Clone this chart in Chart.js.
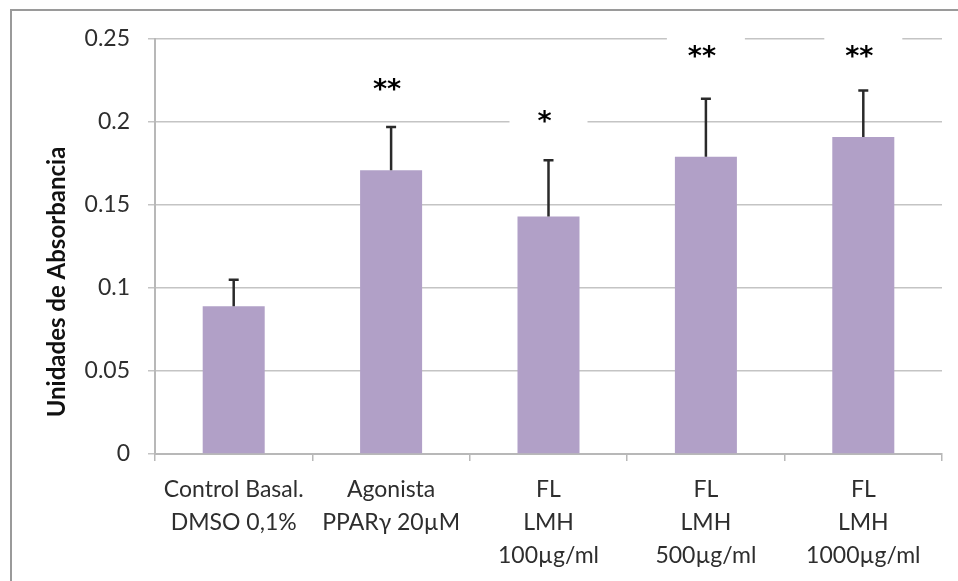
<!DOCTYPE html>
<html>
<head>
<meta charset="utf-8">
<script src="https://cdn.jsdelivr.net/npm/chart.js@4"></script>
<style>
html, body { margin: 0; padding: 0; background: #fff; }
#wrap { width: 958px; height: 581px; }
</style>
</head>
<body>
<div id="wrap"><canvas id="chart_absorbancia"></canvas></div>
<script>
// data
var categories = [
    ['Control Basal.', 'DMSO 0,1%'],
    ['Agonista', 'PPARγ 20µM'],
    ['FL', 'LMH', '100µg/ml'],
    ['FL', 'LMH', '500µg/ml'],
    ['FL', 'LMH', '1000µg/ml']
];
var meanValues = [0.089, 0.171, 0.143, 0.179, 0.191];
var errorValues = [0.016, 0.026, 0.034, 0.035, 0.028];
var starMarks = ['', '**', '*', '**', '**'];
var starLevels = [null, 0.222, 0.203, 0.242, 0.242];
var yTickLabels = ['0', '0.05', '0.1', '0.15', '0.2', '0.25'];
var yTitle = 'Unidades de Absorbancia';

var labelFont = 'Lato';

var chart_absorbancia = new Chart(document.getElementById('chart_absorbancia'), {
    type: 'bar',
    data: {
        labels: categories,
        datasets: [
            {
                label: 'Absorbancia',
                data: meanValues,
                backgroundColor: '#b1a0c7',
                borderWidth: 0,
                categoryPercentage: 1,
                barPercentage: 0.394
            }
        ]
    },
    options: {
        animation: false,
        responsive: true,
        maintainAspectRatio: false,
        layout: {
            padding: { top: 39, right: 16, bottom: 0, left: 0 }
        },
        plugins: {
            legend: { display: false },
            tooltip: { enabled: false }
        },
        scales: {
            x: {
                offset: true,
                grid: {
                    display: true,
                    drawOnChartArea: false,
                    offset: true,
                    tickLength: 7,
                    color: '#b8b8b8',
                    lineWidth: 1.5
                },
                border: { color: '#b8b8b8', width: 2 },
                ticks: {
                    maxRotation: 0,
                    autoSkip: false,
                    padding: 12,
                    color: '#2e2e2e',
                    font: { family: labelFont, size: 23, lineHeight: 33 / 23 }
                },
                afterFit: function(scale) { scale.height = 581 - 454; }
            },
            y: {
                min: 0,
                max: 0.25,
                ticks: {
                    stepSize: 0.05,
                    padding: 18,
                    color: '#2e2e2e',
                    font: { family: labelFont, size: 23 },
                    callback: function(value, index) {
                        return yTickLabels[index];
                    }
                },
                grid: { color: '#c4c4c4', lineWidth: 1.5, tickLength: 7 },
                border: { color: '#b8b8b8', width: 2 },
                afterFit: function(scale) { scale.width = 155; }
            }
        }
    },
    plugins: [{
        id: 'backgroundAndFrame',
        beforeDraw: (chart) => {
            const ctx = chart.ctx;
            ctx.save();
            ctx.fillStyle = 'white';
            ctx.fillRect(0, 0, chart.width, chart.height);
            ctx.strokeStyle = '#9a9a9a';
            ctx.lineWidth = 2;
            ctx.strokeRect(11, 10, chart.width + 20, chart.height + 20);
            ctx.restore();
        }
    }, {
        id: 'starBoxes',
        beforeDatasetsDraw: (chart) => {
            const ctx = chart.ctx;
            const xs = chart.scales.x, ys = chart.scales.y;
            ctx.save();
            ctx.fillStyle = 'white';
            starLevels.forEach((lvl, i) => {
                if (lvl === null) return;
                const cx = xs.getPixelForValue(i);
                const cy = ys.getPixelForValue(lvl);
                ctx.fillRect(cx - 39, cy - 20, 78, 40);
            });
            ctx.restore();
        }
    }, {
        id: 'errorBars',
        afterDatasetsDraw: (chart) => {
            const ctx = chart.ctx;
            const ys = chart.scales.y;
            const meta = chart.getDatasetMeta(0);
            ctx.save();
            ctx.strokeStyle = '#2a2a2a';
            ctx.lineWidth = 2.5;
            meta.data.forEach((bar, i) => {
                const top = ys.getPixelForValue(meanValues[i] + errorValues[i]);
                ctx.beginPath();
                ctx.moveTo(bar.x, bar.y);
                ctx.lineTo(bar.x, top);
                ctx.moveTo(bar.x - 5, top);
                ctx.lineTo(bar.x + 5, top);
                ctx.stroke();
            });
            // significance marks
            const xs = chart.scales.x;
            ctx.fillStyle = '#000';
            ctx.font = 'bold 27px "DejaVu Sans"';
            ctx.textAlign = 'center';
            ctx.textBaseline = 'middle';
            starLevels.forEach((lvl, i) => {
                if (lvl === null) return;
                ctx.fillText(starMarks[i], xs.getPixelForValue(i) - 4, ys.getPixelForValue(lvl) + 6);
            });
            ctx.restore();
        }
    }, {
        id: 'yTitle',
        afterDraw: (chart) => {
            const ctx = chart.ctx;
            ctx.save();
            ctx.translate(57, 282);
            ctx.rotate(-Math.PI / 2);
            ctx.fillStyle = '#111';
            ctx.font = 'bold 24px ' + labelFont;
            ctx.textAlign = 'center';
            ctx.textBaseline = 'middle';
            ctx.fillText(yTitle, 0, 0);
            ctx.restore();
        }
    }]
});
</script>
</body>
</html>
